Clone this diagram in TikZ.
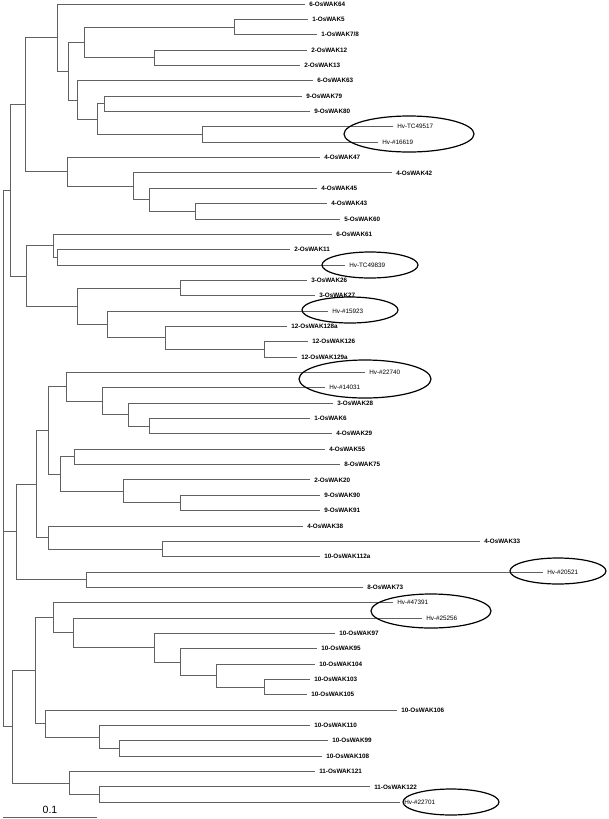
\documentclass[tikz,border=0pt]{standalone}
\usepackage{fontspec}
\setmainfont{Liberation Sans}
\begin{document}
\begin{tikzpicture}[x=0.75pt,y=-0.75pt,
  br/.style={draw=black!62,line width=0.6pt},
  os/.style={anchor=west,inner sep=0pt,xshift=3pt,font=\fontsize{4.75}{5}\selectfont\bfseries},
  hv/.style={anchor=west,inner sep=0pt,xshift=3pt,font=\fontsize{4.75}{5}\selectfont},
  ring/.style={draw=black,line width=0.9pt}]
\useasboundingbox (0,0) rectangle (608,819);
% ---- leaves
\coordinate (t1) at (305,4);       \node[os] (l1) at (t1) {6-OsWAK64};
\coordinate (t2) at (308,19.35);   \node[os] (l2) at (t2) {1-OsWAK5};
\coordinate (t3) at (317,34.7);    \node[os] (l3) at (t3) {1-OsWAK7/8};
\coordinate (t4) at (307,50.05);   \node[os] (l4) at (t4) {2-OsWAK12};
\coordinate (t5) at (300,65.4);    \node[os] (l5) at (t5) {2-OsWAK13};
\coordinate (t6) at (313,80.75);   \node[os] (l6) at (t6) {6-OsWAK63};
\coordinate (t7) at (302,96.1);    \node[os] (l7) at (t7) {9-OsWAK79};
\coordinate (t8) at (310,111.45);  \node[os] (l8) at (t8) {9-OsWAK80};
\coordinate (t9) at (393,126.8);   \node[hv] (l9) at (t9) {Hv-TC49517};
\coordinate (t10) at (378,142.15); \node[hv] (l10) at (t10) {Hv-\#16619};
\coordinate (t11) at (320,157.5);  \node[os] (l11) at (t11) {4-OsWAK47};
\coordinate (t12) at (392,172.85); \node[os] (l12) at (t12) {4-OsWAK42};
\coordinate (t13) at (317,188.2);  \node[os] (l13) at (t13) {4-OsWAK45};
\coordinate (t14) at (327,203.55); \node[os] (l14) at (t14) {4-OsWAK43};
\coordinate (t15) at (340,218.9);  \node[os] (l15) at (t15) {5-OsWAK60};
\coordinate (t16) at (332,234.25); \node[os] (l16) at (t16) {6-OsWAK61};
\coordinate (t17) at (290,249.6);  \node[os] (l17) at (t17) {2-OsWAK11};
\coordinate (t18) at (345,264.95); \node[hv] (l18) at (t18) {Hv-TC49839};
\coordinate (t19) at (307,280.3);  \node[os] (l19) at (t19) {3-OsWAK26};
\coordinate (t20) at (315,295.65); \node[os] (l20) at (t20) {3-OsWAK27};
\coordinate (t21) at (328,311);    \node[hv] (l21) at (t21) {Hv-\#15923};
\coordinate (t22) at (287,326.35); \node[os] (l22) at (t22) {12-OsWAK128a};
\coordinate (t23) at (308,341.7);  \node[os] (l23) at (t23) {12-OsWAK126};
\coordinate (t24) at (297,357.05); \node[os] (l24) at (t24) {12-OsWAK129a};
\coordinate (t25) at (365,372.4);  \node[hv] (l25) at (t25) {Hv-\#22740};
\coordinate (t26) at (325,387.75); \node[hv] (l26) at (t26) {Hv-\#14031};
\coordinate (t27) at (333,403.1);  \node[os] (l27) at (t27) {3-OsWAK28};
\coordinate (t28) at (310,418.45); \node[os] (l28) at (t28) {1-OsWAK6};
\coordinate (t29) at (332,433.8);  \node[os] (l29) at (t29) {4-OsWAK29};
\coordinate (t30) at (325,449.15); \node[os] (l30) at (t30) {4-OsWAK55};
\coordinate (t31) at (340,464.5);  \node[os] (l31) at (t31) {8-OsWAK75};
\coordinate (t32) at (310,479.85); \node[os] (l32) at (t32) {2-OsWAK20};
\coordinate (t33) at (320,495.2);  \node[os] (l33) at (t33) {9-OsWAK90};
\coordinate (t34) at (320,510.55); \node[os] (l34) at (t34) {9-OsWAK91};
\coordinate (t35) at (303,525.9);  \node[os] (l35) at (t35) {4-OsWAK38};
\coordinate (t36) at (480,541.25); \node[os] (l36) at (t36) {4-OsWAK33};
\coordinate (t37) at (320,556.6);  \node[os] (l37) at (t37) {10-OsWAK112a};
\coordinate (t38) at (543,571.95); \node[hv] (l38) at (t38) {Hv-\#20521};
\coordinate (t39) at (363,587.3);  \node[os] (l39) at (t39) {8-OsWAK73};
\coordinate (t40) at (393,602.65); \node[hv] (l40) at (t40) {Hv-\#47391};
\coordinate (t41) at (422,618);    \node[hv] (l41) at (t41) {Hv-\#25256};
\coordinate (t42) at (335,633.35); \node[os] (l42) at (t42) {10-OsWAK97};
\coordinate (t43) at (317,648.7);  \node[os] (l43) at (t43) {10-OsWAK95};
\coordinate (t44) at (315,664.05); \node[os] (l44) at (t44) {10-OsWAK104};
\coordinate (t45) at (310,679.4);  \node[os] (l45) at (t45) {10-OsWAK103};
\coordinate (t46) at (307,694.75); \node[os] (l46) at (t46) {10-OsWAK105};
\coordinate (t47) at (397,710.1);  \node[os] (l47) at (t47) {10-OsWAK106};
\coordinate (t48) at (310,725.45); \node[os] (l48) at (t48) {10-OsWAK110};
\coordinate (t49) at (328,740.8);  \node[os] (l49) at (t49) {10-OsWAK99};
\coordinate (t50) at (322,756.15); \node[os] (l50) at (t50) {10-OsWAK108};
\coordinate (t51) at (315,771.5);  \node[os] (l51) at (t51) {11-OsWAK121};
\coordinate (t52) at (370,786.85); \node[os] (l52) at (t52) {11-OsWAK122};
\coordinate (t53) at (400,802.2);  \node[hv] (l53) at (t53) {Hv-\#22701};
% ---- internal nodes, top clade
\coordinate (a23) at (234,27.03);
\coordinate (a45) at (154,57.73);
\coordinate (nB) at (84,42.38);
\coordinate (a78) at (104,103.78);
\coordinate (a910) at (202,134.48);
\coordinate (nC) at (97,119.13);
\coordinate (nD) at (77,99.94);
\coordinate (nE) at (68,71.16);
\coordinate (nA) at (57,37.58);
\coordinate (a1415) at (195,211.23);
\coordinate (nF) at (149,199.71);
\coordinate (nG) at (133,186.28);
\coordinate (nH) at (67,171.89);
\coordinate (nI) at (25,104.74);
\coordinate (a1718) at (57,257.28);
\coordinate (nJ) at (53,245.76);
\coordinate (a1920) at (180,287.98);
\coordinate (a2324) at (264,349.38);
\coordinate (nK) at (165,337.86);
\coordinate (nL) at (107,324.43);
\coordinate (nM) at (77,306.2);
\coordinate (nN) at (26,275.98);
\coordinate (nO) at (10,190.36);
% middle clade
\coordinate (a2829) at (149,426.13);
\coordinate (nP) at (128,414.61);
\coordinate (nQ) at (102,401.18);
\coordinate (nR) at (66,386.79);
\coordinate (a3031) at (74,456.83);
\coordinate (a3334) at (180,502.88);
\coordinate (nS) at (123,491.36);
\coordinate (nT) at (60,474.1);
\coordinate (nU) at (48,430.44);
\coordinate (a3637) at (162,548.93);
\coordinate (nV) at (48,537.41);
\coordinate (nW) at (36,483.93);
\coordinate (a3839) at (86,579.63);
\coordinate (nX) at (16,531.78);
% bottom clade
\coordinate (a4546) at (264,687.08);
\coordinate (y1) at (216,675.56);
\coordinate (y2) at (180,662.13);
\coordinate (y3) at (154,647.74);
\coordinate (y4) at (73,632.87);
\coordinate (y5) at (53,617.76);
\coordinate (a4950) at (119,748.48);
\coordinate (z1) at (99,736.96);
\coordinate (z2) at (45,723.53);
\coordinate (z3) at (35,670.65);
\coordinate (a5253) at (99,794.53);
\coordinate (z4) at (69,783.01);
\coordinate (z5) at (12,726.83);
\coordinate (root) at (3,531.78);
% ---- branches
\begin{scope}[br]
\draw (a23) |- (t2); \draw (a23) |- (t3);
\draw (a45) |- (t4); \draw (a45) |- (t5);
\draw (nB) |- (a23); \draw (nB) |- (a45);
\draw (a78) |- (t7); \draw (a78) |- (t8);
\draw (a910) |- (t9); \draw (a910) |- (t10);
\draw (nC) |- (a78); \draw (nC) |- (a910);
\draw (nD) |- (t6); \draw (nD) |- (nC);
\draw (nE) |- (nB); \draw (nE) |- (nD);
\draw (nA) |- (t1); \draw (nA) |- (nE);
\draw (a1415) |- (t14); \draw (a1415) |- (t15);
\draw (nF) |- (t13); \draw (nF) |- (a1415);
\draw (nG) |- (t12); \draw (nG) |- (nF);
\draw (nH) |- (t11); \draw (nH) |- (nG);
\draw (nI) |- (nA); \draw (nI) |- (nH);
\draw (a1718) |- (t17); \draw (a1718) |- (t18);
\draw (nJ) |- (t16); \draw (nJ) |- (a1718);
\draw (a1920) |- (t19); \draw (a1920) |- (t20);
\draw (a2324) |- (t23); \draw (a2324) |- (t24);
\draw (nK) |- (t22); \draw (nK) |- (a2324);
\draw (nL) |- (t21); \draw (nL) |- (nK);
\draw (nM) |- (a1920); \draw (nM) |- (nL);
\draw (nN) |- (nJ); \draw (nN) |- (nM);
\draw (nO) |- (nI); \draw (nO) |- (nN);
\draw (a2829) |- (t28); \draw (a2829) |- (t29);
\draw (nP) |- (t27); \draw (nP) |- (a2829);
\draw (nQ) |- (t26); \draw (nQ) |- (nP);
\draw (nR) |- (t25); \draw (nR) |- (nQ);
\draw (a3031) |- (t30); \draw (a3031) |- (t31);
\draw (a3334) |- (t33); \draw (a3334) |- (t34);
\draw (nS) |- (t32); \draw (nS) |- (a3334);
\draw (nT) |- (a3031); \draw (nT) |- (nS);
\draw (nU) |- (nR); \draw (nU) |- (nT);
\draw (a3637) |- (t36); \draw (a3637) |- (t37);
\draw (nV) |- (t35); \draw (nV) |- (a3637);
\draw (nW) |- (nU); \draw (nW) |- (nV);
\draw (a3839) |- (t38); \draw (a3839) |- (t39);
\draw (nX) |- (nW); \draw (nX) |- (a3839);
\draw (a4546) |- (t45); \draw (a4546) |- (t46);
\draw (y1) |- (t44); \draw (y1) |- (a4546);
\draw (y2) |- (t43); \draw (y2) |- (y1);
\draw (y3) |- (t42); \draw (y3) |- (y2);
\draw (y4) |- (t41); \draw (y4) |- (y3);
\draw (y5) |- (t40); \draw (y5) |- (y4);
\draw (a4950) |- (t49); \draw (a4950) |- (t50);
\draw (z1) |- (t48); \draw (z1) |- (a4950);
\draw (z2) |- (t47); \draw (z2) |- (z1);
\draw (z3) |- (y5); \draw (z3) |- (z2);
\draw (a5253) |- (t52); \draw (a5253) |- (t53);
\draw (z4) |- (t51); \draw (z4) |- (a5253);
\draw (z5) |- (z3); \draw (z5) |- (z4);
\draw (root) |- (nO); \draw (root) |- (nX); \draw (root) |- (z5);
\end{scope}
% ---- ellipses
\draw[ring] (409,134) ellipse [x radius=48.75pt, y radius=13.5pt];
\draw[ring] (370,265) ellipse [x radius=36pt, y radius=9.75pt];
\draw[ring] (350,310) ellipse [x radius=36pt, y radius=9.75pt];
\draw[ring] (365,379) ellipse [x radius=49.5pt, y radius=14.25pt];
\draw[ring] (558,571) ellipse [x radius=36pt, y radius=9.75pt];
\draw[ring] (431,611) ellipse [x radius=45pt, y radius=12.75pt];
\draw[ring] (451,802) ellipse [x radius=36pt, y radius=9.75pt];
% ---- scale bar
\coordinate (s0) at (3,817);
\coordinate (s1) at (97,817);
\draw[br] (s0) -- (s1);
\node[inner sep=0pt,font=\fontsize{7.9}{9}\selectfont] (sl) at (50,809.5) {0.1};
\end{tikzpicture}
\end{document}
